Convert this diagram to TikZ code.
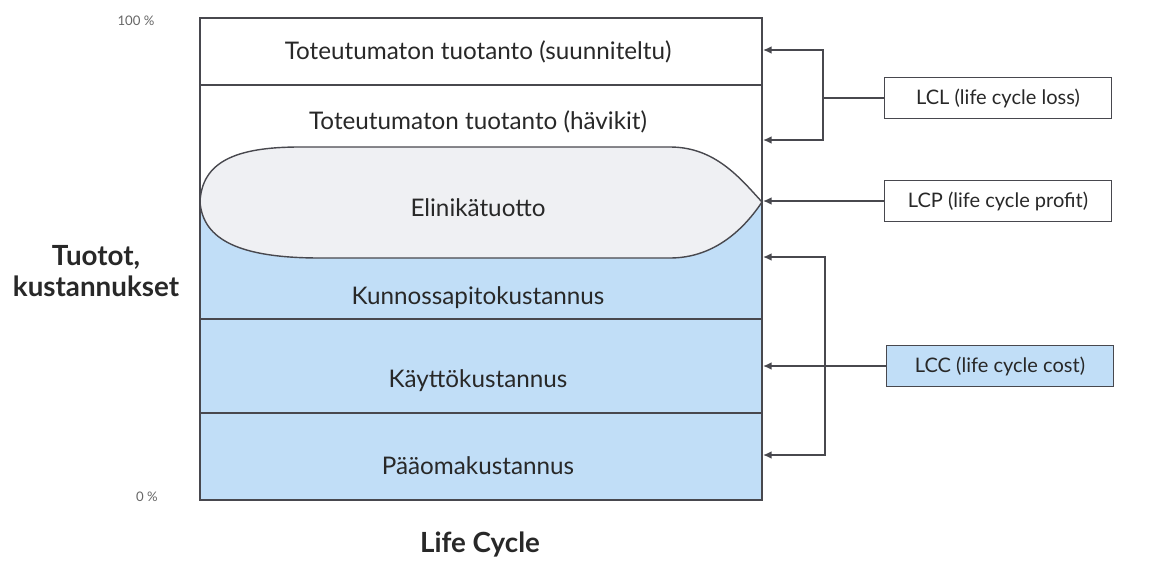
\documentclass[tikz,border=0pt]{standalone}
\usepackage{fontspec}
\setmainfont{Lato}
\usepackage{xcolor}
\usepackage{tikz}
\usetikzlibrary{arrows.meta,positioning}

\definecolor{costblue}{RGB}{193,222,247}
\definecolor{lensgray}{RGB}{239,240,243}
\definecolor{linegray}{RGB}{72,72,78}
\definecolor{textgray}{RGB}{40,40,40}

\begin{document}
\begin{tikzpicture}[x=0.02cm, y=-0.02cm, font=\fontsize{13.8}{16}\selectfont, text=textgray,
  rowtext/.style={inner sep=1pt},
  labelbox/.style={draw=linegray, line width=0.8pt, minimum width=4.54cm, minimum height=0.82cm,
    font=\fontsize{11.4}{13}\selectfont},
  arr/.style={draw=linegray, line width=0.8pt, -{Latex[length=1.7mm,width=1.5mm]}},
  link/.style={draw=linegray, line width=0.8pt}]
\useasboundingbox (0,0) rectangle (1176,561);
% cost area
\fill[costblue] (200,202) rectangle (762,500);
% lifetime profit lens
\draw[fill=lensgray, draw=linegray, line width=0.8pt]
  (200,202) .. controls (202,162) and (235,147) .. (300,147) -- (670,147)
  .. controls (715,147) and (740,178) .. (762,202)
  .. controls (742,232) and (712,258) .. (670,258) -- (320,258)
  .. controls (240,258) and (203,240) .. (200,202);
% outer frame and row borders
\draw[linegray, line width=0.9pt] (200,18) rectangle (762,500);
\draw[linegray, line width=0.9pt] (200,85) -- (762,85);
\draw[linegray, line width=0.9pt] (200,319) -- (762,319);
\draw[linegray, line width=0.9pt] (200,413) -- (762,413);
% row labels
\node[rowtext] (planned) at (478,52) {Toteutumaton tuotanto (suunniteltu)};
\node[rowtext] (losses) at (478,122) {Toteutumaton tuotanto (hävikit)};
\node[rowtext] (profit) at (478,208) {Elinikätuotto};
\node[rowtext] (maint) at (478,298) {Kunnossapitokustannus};
\node[rowtext] (oper) at (478,381) {Käyttökustannus};
\node[rowtext] (capital) at (478,466) {Pääomakustannus};
% axis labels
\node[font=\fontsize{7.5}{9}\selectfont, text=black!60] (top) at (136,21) {100 \%};
\node[font=\fontsize{7.5}{9}\selectfont, text=black!60] (bottom) at (147,497) {0 \%};
\node[align=center, font=\fontsize{15.8}{18}\bfseries] (yaxis) at (96,271) {Tuotot,\\kustannukset};
\node[font=\fontsize{15.8}{18}\bfseries] (xaxis) at (480,545) {Life Cycle};
% measure boxes
\node[labelbox] (lcl) at (998,98) {LCL (life cycle loss)};
\node[labelbox] (lcp) at (998,201) {LCP (life cycle profit)};
\node[labelbox, fill=costblue] (lcc) at (1000,366) {LCC (life cycle cost)};
% arrow targets on the frame
\coordinate (t1) at (763,50);
\coordinate (t2) at (763,140);
\coordinate (t3) at (763,201);
\coordinate (t4) at (763,257);
\coordinate (t5) at (763,366);
\coordinate (t6) at (763,455);
\coordinate (lclfork) at (823,98);
\coordinate (lccfork) at (825,366);
% connectors
\draw[link] (lcl.west) -- (lclfork);
\draw[arr] (lclfork) |- (t1);
\draw[arr] (lclfork) |- (t2);
\draw[arr] (lcp.west) -- (t3);
\draw[arr] (lcc.west) -- (t5);
\draw[arr] (lccfork) |- (t4);
\draw[arr] (lccfork) |- (t6);
\end{tikzpicture}
\end{document}
